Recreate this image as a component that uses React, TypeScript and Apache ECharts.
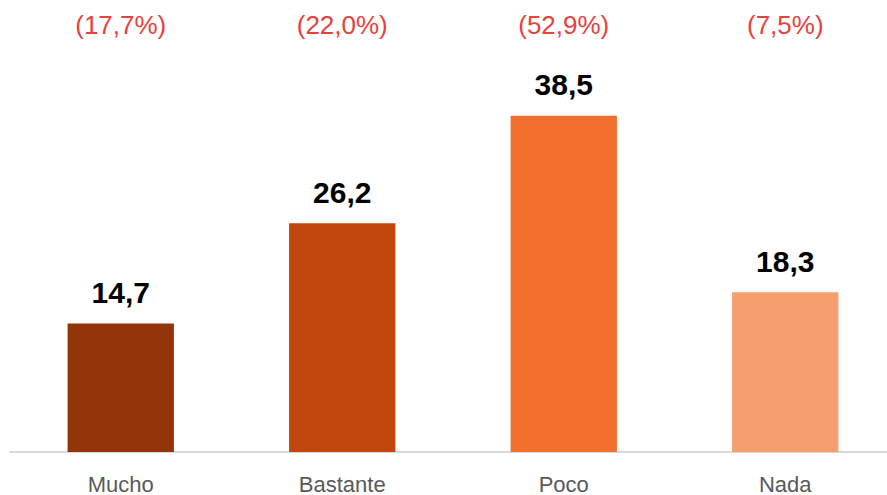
import React, { useEffect, useRef } from "react";
import * as echarts from "echarts";

const categories = ["Mucho", "Bastante", "Poco", "Nada"];
const values = [14.7, 26.2, 38.5, 18.3];
const percentLabels = ["(17,7%)", "(22,0%)", "(52,9%)", "(7,5%)"];
const barColors = ["#933508", "#C0460C", "#F2702D", "#F79E6F"];

export default function App() {
  const ref = useRef<HTMLDivElement>(null);
  useEffect(() => {
    if (!ref.current) return;
    const chart = echarts.init(ref.current, undefined, { renderer: "svg" });
    chart.setOption({
      animation: false,
      grid: { left: 10, right: 0, top: 59, bottom: 38, containLabel: false },
      xAxis: [
        {
          type: "category",
          data: categories,
          position: "bottom",
          axisLine: { show: true, lineStyle: { color: "#D9D9D9", width: 2 } },
          axisTick: { show: false },
          axisLabel: {
            color: "#595959",
            fontSize: 22,
            fontFamily: "Liberation Sans, Arial, sans-serif",
            margin: 21,
          },
        },
        {
          type: "category",
          data: percentLabels,
          position: "top",
          axisLine: { show: false },
          axisTick: { show: false },
          axisLabel: {
            color: "#E8413C",
            fontSize: 26,
            fontFamily: "Liberation Sans, Arial, sans-serif",
            margin: 21,
          },
        },
      ],
      yAxis: {
        type: "value",
        min: 0,
        max: 45,
        show: false,
        splitLine: { show: false },
      },
      series: [
        {
          type: "bar",
          xAxisIndex: 0,
          barWidth: "48%",
          data: values.map((v, i) => ({ value: v, itemStyle: { color: barColors[i] } })),
          label: {
            show: true,
            position: "top",
            distance: 16,
            color: "#000000",
            fontSize: 30,
            fontWeight: "bold",
            fontFamily: "Liberation Sans, Arial, sans-serif",
            formatter: (p: any) => String(p.value).replace(".", ","),
          },
        },
      ],
    });
    return () => chart.dispose();
  }, []);
  return (
    <div
      style={{
        position: "absolute",
        left: 0,
        top: 0,
        width: 887,
        height: 495,
        overflow: "hidden",
      }}
    >
      <div ref={ref} style={{ width: 896, height: 495 }} />
    </div>
  );
}
